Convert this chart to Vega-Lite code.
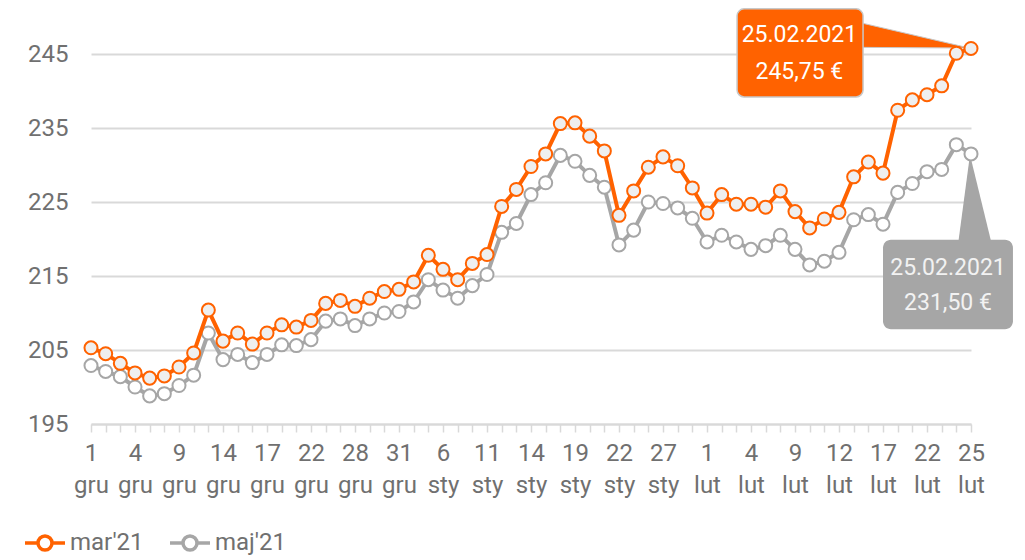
{
  "$schema": "https://vega.github.io/schema/vega-lite/v6.json",
  "width": 880,
  "height": 370,
  "autosize": {"type": "none"},
  "padding": {"left": 91, "top": 54, "right": 54, "bottom": 136},
  "background": "#ffffff",
  "config": {
    "font": "Roboto",
    "view": {"stroke": null}
  },
  "datasets": {
    "prices": [
      {"d": "1 gru", "mar": 205.3, "maj": 202.9},
      {"d": "2 gru", "mar": 204.5, "maj": 202.1},
      {"d": "3 gru", "mar": 203.2, "maj": 201.4},
      {"d": "4 gru", "mar": 201.9, "maj": 200.0},
      {"d": "7 gru", "mar": 201.2, "maj": 198.8},
      {"d": "8 gru", "mar": 201.5, "maj": 199.1},
      {"d": "9 gru", "mar": 202.7, "maj": 200.2},
      {"d": "10 gru", "mar": 204.6, "maj": 201.6},
      {"d": "11 gru", "mar": 210.4, "maj": 207.3},
      {"d": "14 gru", "mar": 206.2, "maj": 203.7},
      {"d": "15 gru", "mar": 207.3, "maj": 204.4},
      {"d": "16 gru", "mar": 205.8, "maj": 203.3},
      {"d": "17 gru", "mar": 207.3, "maj": 204.4},
      {"d": "18 gru", "mar": 208.4, "maj": 205.7},
      {"d": "21 gru", "mar": 208.1, "maj": 205.6},
      {"d": "22 gru", "mar": 209.0, "maj": 206.4},
      {"d": "23 gru", "mar": 211.3, "maj": 208.9},
      {"d": "24 gru", "mar": 211.7, "maj": 209.2},
      {"d": "28 gru", "mar": 210.9, "maj": 208.3},
      {"d": "29 gru", "mar": 212.0, "maj": 209.2},
      {"d": "30 gru", "mar": 212.9, "maj": 210.0},
      {"d": "31 gru", "mar": 213.2, "maj": 210.2},
      {"d": "4 sty", "mar": 214.2, "maj": 211.5},
      {"d": "5 sty", "mar": 217.8, "maj": 214.5},
      {"d": "6 sty", "mar": 215.9, "maj": 213.1},
      {"d": "7 sty", "mar": 214.5, "maj": 212.0},
      {"d": "8 sty", "mar": 216.7, "maj": 213.7},
      {"d": "11 sty", "mar": 217.9, "maj": 215.2},
      {"d": "12 sty", "mar": 224.4, "maj": 220.9},
      {"d": "13 sty", "mar": 226.7, "maj": 222.1},
      {"d": "14 sty", "mar": 229.8, "maj": 226.0},
      {"d": "15 sty", "mar": 231.5, "maj": 227.6},
      {"d": "18 sty", "mar": 235.6, "maj": 231.3},
      {"d": "19 sty", "mar": 235.7, "maj": 230.5},
      {"d": "20 sty", "mar": 233.9, "maj": 228.6},
      {"d": "21 sty", "mar": 231.9, "maj": 227.0},
      {"d": "22 sty", "mar": 223.2, "maj": 219.2},
      {"d": "25 sty", "mar": 226.5, "maj": 221.2},
      {"d": "26 sty", "mar": 229.7, "maj": 225.0},
      {"d": "27 sty", "mar": 231.1, "maj": 224.8},
      {"d": "28 sty", "mar": 229.9, "maj": 224.2},
      {"d": "29 sty", "mar": 226.9, "maj": 222.8},
      {"d": "1 lut", "mar": 223.5, "maj": 219.6},
      {"d": "2 lut", "mar": 226.0, "maj": 220.5},
      {"d": "3 lut", "mar": 224.7, "maj": 219.6},
      {"d": "4 lut", "mar": 224.7, "maj": 218.6},
      {"d": "5 lut", "mar": 224.3, "maj": 219.1},
      {"d": "8 lut", "mar": 226.5, "maj": 220.5},
      {"d": "9 lut", "mar": 223.7, "maj": 218.6},
      {"d": "10 lut", "mar": 221.5, "maj": 216.5},
      {"d": "11 lut", "mar": 222.7, "maj": 217.0},
      {"d": "12 lut", "mar": 223.6, "maj": 218.2},
      {"d": "15 lut", "mar": 228.4, "maj": 222.6},
      {"d": "16 lut", "mar": 230.4, "maj": 223.3},
      {"d": "17 lut", "mar": 228.9, "maj": 222.0},
      {"d": "18 lut", "mar": 237.4, "maj": 226.3},
      {"d": "19 lut", "mar": 238.8, "maj": 227.5},
      {"d": "22 lut", "mar": 239.5, "maj": 229.1},
      {"d": "23 lut", "mar": 240.7, "maj": 229.4},
      {"d": "24 lut", "mar": 245.1, "maj": 232.75},
      {"d": "25 lut", "mar": 245.75, "maj": 231.5}
    ]
  },
  "resolve": {"scale": {"x": "independent"}},
  "layer": [
    {
      "layer": [
        {
          "data": {"values": [
            {"x": 52.3, "y": 249.3, "y2": 245.9},
            {"x": 59.9, "y": 245.8, "y2": 245.8}
          ]},
          "mark": {"type": "area", "orient": "vertical", "color": "#FF6200", "stroke": "#c8c8c8", "strokeWidth": 1},
          "encoding": {
            "x": {"field": "x", "type": "quantitative", "scale": {"domain": [0, 60], "nice": false, "zero": false}, "axis": null},
            "y": {"field": "y", "type": "quantitative", "scale": {"domain": [195, 245], "nice": false, "zero": false}, "title": null},
            "y2": {"field": "y2"}
          }
        },
        {
          "data": {"values": [
            {"x": 44.05, "x2": 52.64, "y": 251.1, "y2": 239.2}
          ]},
          "mark": {"type": "rect", "color": "#FF6200", "stroke": "#c8c8c8", "strokeWidth": 1.5, "cornerRadius": 7},
          "encoding": {
            "x": {"field": "x", "type": "quantitative", "scale": {"domain": [0, 60], "nice": false, "zero": false}, "axis": null},
            "x2": {"field": "x2"},
            "y": {"field": "y", "type": "quantitative", "scale": {"domain": [195, 245], "nice": false, "zero": false}, "title": null},
            "y2": {"field": "y2"}
          }
        },
        {
          "data": {"values": [
            {"x": 48.3, "y": 247.6, "t": "25.02.2021"},
            {"x": 48.3, "y": 242.6, "t": "245,75 €"}
          ]},
          "mark": {"type": "text", "color": "#ffffff", "fontSize": 23, "align": "center", "baseline": "middle"},
          "encoding": {
            "x": {"field": "x", "type": "quantitative", "scale": {"domain": [0, 60], "nice": false, "zero": false}, "axis": null},
            "y": {"field": "y", "type": "quantitative", "scale": {"domain": [195, 245], "nice": false, "zero": false}, "title": null},
            "text": {"field": "t"}
          }
        },
        {
          "data": {"values": [
            {"y": 219.2, "x": 59.11, "x2": 61.43},
            {"y": 231.4, "x": 59.93, "x2": 59.93}
          ]},
          "mark": {"type": "area", "orient": "horizontal", "color": "#A6A6A6"},
          "encoding": {
            "y": {"field": "y", "type": "quantitative", "scale": {"domain": [195, 245], "nice": false, "zero": false}, "title": null},
            "x": {"field": "x", "type": "quantitative", "scale": {"domain": [0, 60], "nice": false, "zero": false}, "axis": null},
            "x2": {"field": "x2"}
          }
        },
        {
          "data": {"values": [
            {"x": 54.0, "x2": 62.86, "y": 219.9, "y2": 207.8}
          ]},
          "mark": {"type": "rect", "color": "#A6A6A6", "cornerRadius": 8},
          "encoding": {
            "x": {"field": "x", "type": "quantitative", "scale": {"domain": [0, 60], "nice": false, "zero": false}, "axis": null},
            "x2": {"field": "x2"},
            "y": {"field": "y", "type": "quantitative", "scale": {"domain": [195, 245], "nice": false, "zero": false}, "title": null},
            "y2": {"field": "y2"}
          }
        },
        {
          "data": {"values": [
            {"x": 58.43, "y": 216.1, "t": "25.02.2021"},
            {"x": 58.43, "y": 211.35, "t": "231,50 €"}
          ]},
          "mark": {"type": "text", "color": "#f2f2f2", "fontSize": 23, "align": "center", "baseline": "middle"},
          "encoding": {
            "x": {"field": "x", "type": "quantitative", "scale": {"domain": [0, 60], "nice": false, "zero": false}, "axis": null},
            "y": {"field": "y", "type": "quantitative", "scale": {"domain": [195, 245], "nice": false, "zero": false}, "title": null},
            "text": {"field": "t"}
          }
        }
      ]
    },
    {
      "data": {"name": "prices"},
      "encoding": {
        "x": {
          "field": "d", "type": "nominal", "sort": null,
          "scale": {"type": "point", "padding": 0},
          "axis": {
            "title": null,
            "labelAngle": 0,
            "domainColor": "#d9d9d9", "domainWidth": 2,
            "tickColor": "#d9d9d9", "tickWidth": 1.5, "tickSize": 8,
            "labelFontSize": 24, "labelColor": "#707070",
            "labelPadding": 9, "labelLineHeight": 32,
            "labelBaseline": "top",
            "labelOverlap": false, "labelBound": false, "labelFlush": false,
            "grid": false,
            "labelExpr": "round(datum.index * 60) % 3 == 0 ? split(datum.label, ' ') : ''"
          }
        }
      },
      "layer": [
        {
          "mark": {"type": "line", "strokeWidth": 4},
          "encoding": {
            "y": {
              "field": "maj", "type": "quantitative", "title": null,
              "scale": {"domain": [195, 245], "nice": false, "zero": false},
              "axis": {
                "values": [195, 205, 215, 225, 235, 245],
                "grid": true, "gridColor": "#d9d9d9", "gridWidth": 2,
                "domain": false, "ticks": false,
                "labelPadding": 23, "labelFontSize": 24, "labelColor": "#707070"
              }
            },
            "color": {
              "datum": "maj'21", "type": "nominal",
              "scale": {"domain": ["mar'21", "maj'21"], "range": ["#FF6200", "#A6A6A6"]},
              "legend": {
                "title": null, "orient": "none", "direction": "horizontal",
                "legendX": -68, "legendY": 467,
                "symbolType": "M-1,0L-0.35,0M0.35,0L1,0M-0.35,0A0.35,0.35,0,1,1,0.35,0A0.35,0.35,0,1,1,-0.35,0Z",
                "symbolSize": 1600, "symbolStrokeWidth": 3.5,
                "labelFontSize": 24, "labelColor": "#707070",
                "labelOffset": 3, "columnPadding": 19,
                "encode": {"symbols": {"update": {"fill": {"value": "#ffffff"}}}}
              }
            }
          }
        },
        {
          "mark": {"type": "point", "shape": "circle", "filled": true, "size": 170, "strokeWidth": 2, "stroke": "#A6A6A6", "fill": "#ffffff", "opacity": 1},
          "encoding": {
            "y": {"field": "maj", "type": "quantitative", "title": null, "scale": {"domain": [195, 245], "nice": false, "zero": false}}
          }
        },
        {
          "mark": {"type": "line", "strokeWidth": 4},
          "encoding": {
            "y": {"field": "mar", "type": "quantitative", "title": null, "scale": {"domain": [195, 245], "nice": false, "zero": false}},
            "color": {"datum": "mar'21", "type": "nominal"}
          }
        },
        {
          "mark": {"type": "point", "shape": "circle", "filled": true, "size": 170, "strokeWidth": 2, "stroke": "#FF6200", "fill": "#efefef", "opacity": 1},
          "encoding": {
            "y": {"field": "mar", "type": "quantitative", "title": null, "scale": {"domain": [195, 245], "nice": false, "zero": false}}
          }
        }
      ]
    }
  ]
}
